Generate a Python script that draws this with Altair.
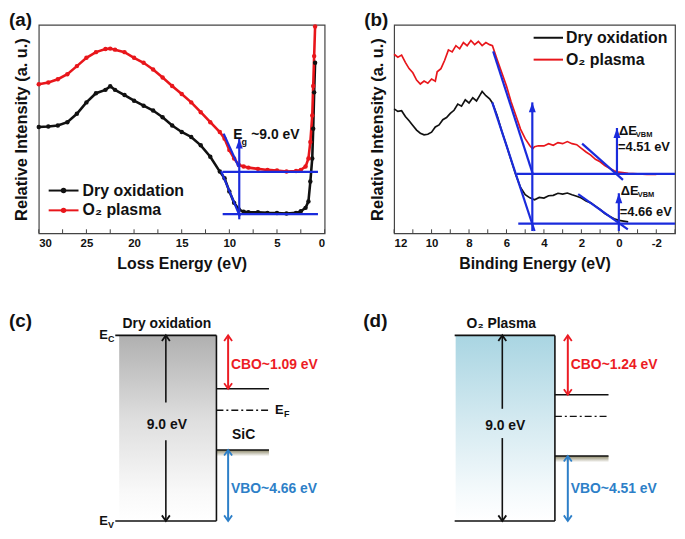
import altair as alt
import pandas as pd

FONT = "Arial"
RED = "#e8161b"
BLK = "#111111"
BLUE = "#1a2bdc"
CBO_RED = "#ec1c24"
VBO_BLUE = "#2d7fc8"
FRAME = "#444444"
UP_TRI = "M-0.35,1L0,0L0.35,1Z"
UP_CHEV = "M-0.5,0.7L0,0L0.5,0.7"
DOWN_CHEV = "M-0.5,-0.7L0,0L0.5,-0.7"

# ---------------- (a) loss-energy spectra ----------------
a_energy = [30, 29, 28, 27, 26, 25, 24, 23, 22.5, 22, 21, 20, 19, 18, 17, 16, 15, 14, 13, 12,
            11, 10.5, 10, 9.5, 9, 8.5, 8, 7, 6, 5, 4, 3, 2.5, 2, 1.7, 1.5, 1.3, 1.2, 1.1, 1.0]
a_dry = [51, 51.2, 51.7, 53.3, 57.3, 62.8, 67.2, 68.8, 70.5, 68.8, 66.3, 63.6, 61.2, 58.9, 55.7,
         51.7, 48.6, 46.2, 42.2, 36.7, 29.6, 26.4, 20.1, 14.6, 11.4, 10.3, 10.1, 10.1, 9.8, 9.7,
         9.5, 9.8, 10.6, 12.2, 15.3, 24.8, 35.9, 50.2, 67.6, 81.8]
a_o2 = [71.5, 72.3, 73.9, 76.3, 80.2, 84.2, 86.9, 88.4, 88.6, 88.1, 86.9, 84.2, 81.8, 78.6, 74.7,
        70.7, 66.8, 62.8, 58.1, 53.3, 48.6, 45.4, 39.9, 35.9, 32.8, 32.0, 31.5, 30.9, 30.4, 30.1,
        29.6, 29.9, 30.4, 32.0, 35.9, 43.8, 56.5, 70.7, 85.0, 99.2]
a_tick_values = [0, 5, 10, 15, 20, 25, 30]
a_minor = [0, 2.5, 5, 7.5, 10, 12.5, 15, 17.5, 20, 22.5, 25, 27.5, 30]
a_fit_x1 = [10.7, 10.7, 10.6, 10.86]
a_fit_y1 = [29.5, 9.2, 47.8, 29.8]
a_fit_x2 = [0.7, 0.7, 9.03, 8.9]
a_fit_y2 = [29.5, 9.2, 31.9, 8.1]
a_arrow_x = [8.96]
a_arrow_y1 = [6.7]
a_arrow_y2 = [45.4]
series = ["Dry oxidation", "O\u2082 plasma"]

# ---------------- (b) valence band spectra ----------------
b_e_dry = [12, 11.8, 11.6, 11.4, 11.2, 11.0, 10.8, 10.6, 10.4, 10.2, 10.0, 9.8, 9.6, 9.4, 9.2,
           9.0, 8.8, 8.6, 8.4, 8.2, 8.0, 7.8, 7.6, 7.4, 7.3, 7.1, 6.9, 6.75, 6.5, 6.25, 6.0, 5.75,
           5.5, 5.25, 5.0, 4.75, 4.5, 4.25, 4.0, 3.75, 3.5, 3.25, 3.0, 2.75, 2.5, 2.25, 2.0, 1.75,
           1.5, 1.25, 1.0, 0.75, 0.5, 0.25, 0, -0.5]
b_dry = [59.7, 58.5, 58.8, 56.0, 54.0, 51.7, 49.5, 48.0, 47.2, 47.5, 48.5, 51.0, 52.0, 54.5, 55.5,
         57.5, 59.0, 62.0, 61.0, 64.0, 62.5, 65.0, 63.5, 66.5, 68.0, 66.0, 64.5, 62.5, 56.5, 49.0,
         42.2, 35.0, 28.0, 22.0, 18.5, 17.0, 16.1, 17.2, 16.9, 18.0, 18.2, 19.2, 18.8, 19.3, 18.5,
         17.8, 16.9, 15.5, 14.6, 13.0, 11.4, 9.5, 8.2, 7.0, 6.2, 5.5]
b_e_o2 = [12, 11.8, 11.6, 11.4, 11.2, 11.0, 10.8, 10.6, 10.4, 10.2, 10.0, 9.8, 9.7, 9.5, 9.3,
          9.1, 8.9, 8.7, 8.5, 8.3, 8.1, 7.9, 7.7, 7.5, 7.3, 7.1, 6.9, 6.75, 6.5, 6.25, 6.0, 5.75,
          5.5, 5.25, 5.0, 4.75, 4.6, 4.5, 4.3, 4.0, 3.75, 3.5, 3.25, 3.0, 2.75, 2.5, 2.25, 2.0,
          1.75, 1.5, 1.25, 1.0, 0.75, 0.5, 0.25, 0, -0.5, -1, -1.5, -2]
b_o2 = [85.9, 84.5, 85.5, 82.0, 79.0, 77.0, 73.5, 71.6, 73.0, 72.0, 74.0, 73.0, 77.5, 79.0, 83.0,
        88.0, 87.0, 90.0, 88.5, 91.5, 90.0, 92.5, 90.5, 92.0, 90.0, 91.5, 90.5, 90.0, 83.4, 77.0,
        70.7, 63.0, 56.5, 50.0, 45.4, 42.0, 40.5, 41.5, 42.0, 41.9, 43.0, 42.2, 43.5, 43.0, 44.0,
        43.0, 42.5, 40.7, 39.0, 37.5, 35.5, 34.3, 32.5, 31.2, 30.0, 29.3, 28.8, 28.5, 28.3, 28.3]
b_tick_values = [12, 10, 8, 6, 4, 2, 0, -2]
b_minor = [12, 11, 10, 9, 8, 7, 6, 5, 4, 3, 2, 1, 0, -1, -2, -3]
b_fit_x1 = [5.45, 5.37, 6.71, 6.76, 1.96, 2.17]
b_fit_y1 = [28.5, 4.6, 87.3, 62.8, 43.0, 18.8]
b_fit_x2 = [-3, -3, 4.58, 4.5, -0.22, -0.48]
b_fit_y2 = [28.5, 4.6, 28.0, 1.1, 25.6, 1.9]
b_arrow_x = [4.62, 0.1, 0.0]
b_arrow_y1 = [1.1, 28.0, 1.1]
b_arrow_y2 = [62.8, 50.5, 19.2]
b_vbm = ["=4.51 eV", "=4.66 eV"]

# ---------------- (c), (d) band diagrams (schematic energy levels) ----------------
gap = 9.0
c_levels = {"cb": 6.41, "ef": 5.37, "vb": 3.44}
d_levels = {"cb": 6.12, "ef": 5.07, "vb": 3.15}
c_labels = ["Dry oxidation", "9.0 eV", "CBO~1.09 eV", "VBO~4.66 eV"]
d_labels = ["O\u2082 Plasma", "9.0 eV", "CBO~1.24 eV", "VBO~4.51 eV"]


def bold(**kw):
    base = dict(font=FONT, fontWeight="bold")
    base.update(kw)
    return base


def label_layer(t, y):
    return alt.Chart(pd.DataFrame({"t": [t]})).mark_text(
        **bold(fontSize=19, align="left", baseline="top", color=BLK)
    ).encode(text="t:N", x=alt.value(-30), y=alt.value(y))


def spectrum_panel(xs, xaxis, width, tag, lines_df, points, fits, arrows, minor, legend, extra):
    ys = alt.Scale(domain=[0, 100], nice=False, zero=False)
    yaxis = alt.Axis(title="Relative Intensity (a. u.)", labels=False, titlePadding=9)

    def X(f):
        return alt.X(f, type="quantitative", scale=xs, axis=xaxis)

    def Y(f):
        return alt.Y(f, type="quantitative", scale=ys, axis=yaxis)

    color = alt.Color("series:N", scale=alt.Scale(domain=series, range=[BLK, RED]), legend=None)
    layers = []
    layers.append(alt.Chart(pd.DataFrame({"t": minor})).mark_rule(color=FRAME, strokeWidth=1).encode(
        x=X("t"), y=alt.value(210), y2=alt.value(206)))
    layers.append(alt.Chart(lines_df).mark_line(strokeWidth=2.6 if points else 1.7).encode(
        x=X("e"), y=Y("v"), color=color))
    if points:
        layers.append(alt.Chart(lines_df).mark_point(filled=True, size=20, opacity=1).encode(
            x=X("e"), y=Y("v"), color=color))
    layers.append(alt.Chart(fits).mark_rule(color=BLUE, strokeWidth=2.2).encode(
        x=X("x1"), x2="x2", y=Y("y1"), y2="y2"))
    layers.append(alt.Chart(arrows).mark_rule(color=BLUE, strokeWidth=2.2).encode(
        x=X("x"), y=Y("y1"), y2="y2"))
    layers.append(alt.Chart(arrows).mark_point(shape=UP_TRI, size=400, filled=True, opacity=1,
                                               color=BLUE).encode(x=X("x"), y=Y("y2")))
    # legend
    lg, mk = legend
    layers.append(alt.Chart(lg).mark_rule(strokeWidth=2).encode(
        x=X("x1"), x2="x2", y=Y("y"), color=color))
    if mk:
        layers.append(alt.Chart(lg).mark_point(filled=True, size=30, opacity=1).encode(
            x=X("xm"), y=Y("y"), color=color))
    layers.append(alt.Chart(lg).mark_text(**bold(fontSize=16, align="left", baseline="middle", color=BLK)).encode(
        x=X("xt"), y=Y("y"), text="series:N"))
    for df, kw in extra:
        layers.append(alt.Chart(df).mark_text(**bold(color=BLK, **kw)).encode(
            x=X("x"), y=Y("y"), text="t:N"))
    layers.append(label_layer(tag, -14))
    return alt.layer(*layers).properties(
        width=width, height=210, view=alt.ViewBackground(stroke=FRAME, strokeWidth=1.2))


# ---- panel (a)
a_df = pd.concat([
    pd.DataFrame({"e": a_energy, "v": a_dry, "series": series[0]}),
    pd.DataFrame({"e": a_energy, "v": a_o2, "series": series[1]}),
])
a_xs = alt.Scale(domain=[0, 30], reverse=True, nice=False, zero=False)
a_xaxis = alt.Axis(values=a_tick_values, title="Loss Energy (eV)", labelExpr="'' + datum.value")
a_legend = pd.DataFrame({"series": series, "y": [20.5, 11], "x1": [28.96, 28.96], "x2": [25.83, 25.83],
                         "xm": [27.4, 27.4], "xt": [25.4, 25.4]})
a_extra = [
    (pd.DataFrame({"x": [9.58, 7.7], "y": [45.4, 45.4], "t": ["E", "~9.0 eV"]}),
     dict(fontSize=14, align="left", baseline="alphabetic")),
    (pd.DataFrame({"x": [8.72], "y": [42.2], "t": ["g"]}),
     dict(fontSize=9, align="left", baseline="alphabetic")),
]
panel_a = spectrum_panel(
    a_xs, a_xaxis, 288, "(a)", a_df, True,
    pd.DataFrame({"x1": a_fit_x1, "y1": a_fit_y1, "x2": a_fit_x2, "y2": a_fit_y2}),
    pd.DataFrame({"x": a_arrow_x, "y1": a_arrow_y1, "y2": a_arrow_y2}),
    a_minor, (a_legend, True), a_extra)

# ---- panel (b)
b_df = pd.concat([
    pd.DataFrame({"e": b_e_dry, "v": b_dry, "series": series[0]}),
    pd.DataFrame({"e": b_e_o2, "v": b_o2, "series": series[1]}),
])
b_xs = alt.Scale(domain=[-3, 12], reverse=True, nice=False, zero=False)
b_xaxis = alt.Axis(values=b_tick_values, title="Binding Energy (eV)", labelExpr="'' + datum.value")
b_legend = pd.DataFrame({"series": series, "y": [93.8, 83.3], "x1": [4.55, 4.55], "x2": [2.98, 2.98],
                         "xm": [3.7, 3.7], "xt": [2.82, 2.82]})
b_extra = [
    (pd.DataFrame({"x": [0.1, 0.0], "y": [47.0, 18.4], "t": ["\u0394E", "\u0394E"]}),
     dict(fontSize=13, align="left", baseline="alphabetic", dx=2)),
    (pd.DataFrame({"x": [0.1, 0.0], "y": [46.2, 17.6], "t": ["VBM", "VBM"]}),
     dict(fontSize=7.5, align="left", baseline="alphabetic", dx=19)),
    (pd.DataFrame({"x": [0.1, 0.0], "y": [39.5, 8.1], "t": b_vbm}),
     dict(fontSize=13, align="left", baseline="alphabetic", dx=1)),
]
panel_b = spectrum_panel(
    b_xs, b_xaxis, 283, "(b)", b_df, False,
    pd.DataFrame({"x1": b_fit_x1, "y1": b_fit_y1, "x2": b_fit_x2, "y2": b_fit_y2}),
    pd.DataFrame({"x": b_arrow_x, "y1": b_arrow_y1, "y2": b_arrow_y2}),
    b_minor, (b_legend, False), b_extra)


# ---- band diagrams
def band_panel(tag, width, xdom, lv, labels, stops, pos):
    xs = alt.Scale(domain=xdom, nice=False, zero=False)
    ys = alt.Scale(domain=[-0.25, 10.15], nice=False, zero=False)

    def X(f):
        return alt.X(f, type="quantitative", scale=xs, axis=None)

    def Y(f):
        return alt.Y(f, type="quantitative", scale=ys, axis=None)

    xb, xa, xl, xsic = pos["box_arrow"], pos["side_arrow"], pos["side_label"], pos["sic_end"]
    layers = []
    grad = alt.LinearGradient(gradient="linear", x1=0, x2=0, y1=0, y2=1,
                              stops=[alt.GradientStop(color=c, offset=o) for c, o in stops])
    layers.append(alt.Chart(pd.DataFrame({"x1": [0], "x2": [1], "y1": [gap], "y2": [0]})).mark_rect(
        fill=grad, strokeWidth=0).encode(x=X("x1"), x2="x2", y=Y("y1"), y2="y2"))
    shadow = alt.LinearGradient(gradient="linear", x1=0, x2=0, y1=0, y2=1,
                                stops=[alt.GradientStop(color="#8a8566", offset=0),
                                       alt.GradientStop(color="#ffffff", offset=1)])
    layers.append(alt.Chart(pd.DataFrame({"x1": [1], "x2": [xsic], "y1": [lv["vb"]], "y2": [lv["vb"] - 0.3]})).mark_rect(
        fill=shadow, strokeWidth=0).encode(x=X("x1"), x2="x2", y=Y("y1"), y2="y2"))
    solid = pd.DataFrame({
        "x1": [pos["line_start"], pos["line_start"], 1, 1, 1],
        "x2": [1, 1, 1, xsic, xsic],
        "y1": [gap, 0, 0, lv["cb"], lv["vb"]],
        "y2": [gap, 0, gap, lv["cb"], lv["vb"]],
    })
    layers.append(alt.Chart(solid).mark_rule(color=BLK, strokeWidth=1.6).encode(
        x=X("x1"), x2="x2", y=Y("y1"), y2="y2"))
    layers.append(alt.Chart(pd.DataFrame({"x1": [1], "x2": [xsic], "y": [lv["ef"]]})).mark_rule(
        color=BLK, strokeWidth=1.4, strokeDash=[7, 3, 2, 3]).encode(x=X("x1"), x2="x2", y=Y("y")))
    arrows = pd.DataFrame({
        "x": [xb, xb, xa, xa],
        "y1": [gap, pos["gap_lo"], lv["cb"], 0],
        "y2": [pos["gap_hi"], 0, gap, lv["vb"]],
        "c": [BLK, BLK, CBO_RED, VBO_BLUE],
        "w": [1.6, 1.6, 2.0, 2.0],
    })
    layers.append(alt.Chart(arrows).mark_rule().encode(
        x=X("x"), y=Y("y1"), y2="y2", color=alt.Color("c:N", scale=None),
        strokeWidth=alt.StrokeWidth("w:Q", scale=None)))
    heads = pd.DataFrame({
        "x": [xb, xb, xa, xa, xa, xa],
        "y": [gap, 0, gap, lv["cb"], lv["vb"], 0],
        "d": ["up", "down", "up", "down", "up", "down"],
        "c": [BLK, BLK, CBO_RED, CBO_RED, VBO_BLUE, VBO_BLUE],
    })
    layers.append(alt.Chart(heads).mark_point(size=256, filled=False, opacity=1, strokeWidth=1.8).encode(
        x=X("x"), y=Y("y"), color=alt.Color("c:N", scale=None),
        shape=alt.Shape("d:N", scale=alt.Scale(domain=["up", "down"], range=[UP_CHEV, DOWN_CHEV]), legend=None)))
    txt = pd.DataFrame({
        "x": [pos["title_x"], pos["gap_text_x"]],
        "y": [9.55, pos["gap_text_y"]],
        "t": labels[:2],
    })
    layers.append(alt.Chart(txt).mark_text(**bold(fontSize=14, align="center", baseline="middle", color=BLK)).encode(
        x=X("x"), y=Y("y"), text="t:N"))
    side = pd.DataFrame({"x": [xl, xl], "y": [7.54, 1.55], "t": labels[2:], "c": [CBO_RED, VBO_BLUE]})
    layers.append(alt.Chart(side).mark_text(**bold(fontSize=14, align="left", baseline="middle")).encode(
        x=X("x"), y=Y("y"), text="t:N", color=alt.Color("c:N", scale=None)))
    for df, kw in pos.get("extra", []):
        layers.append(alt.Chart(df).mark_text(**bold(color=BLK, **kw)).encode(
            x=X("x"), y=Y("y"), text="t:N"))
    layers.append(label_layer(tag, 0))
    return alt.layer(*layers).properties(
        width=width, height=216, view=alt.ViewBackground(stroke="transparent"))


c_extra = [
    (pd.DataFrame({"x": [-0.115, -0.115, 1.69], "y": [gap, 0, c_levels["ef"]], "t": ["E", "E", "E"]}),
     dict(fontSize=13, align="right", baseline="middle")),
    (pd.DataFrame({"x": [-0.115, -0.115, 1.695], "y": [gap, 0, c_levels["ef"]], "t": ["C", "V", "F"]}),
     dict(fontSize=9, align="left", baseline="middle", dy=4)),
    (pd.DataFrame({"x": [1.28], "y": [4.19], "t": ["SiC"]}),
     dict(fontSize=14, align="center", baseline="middle")),
]

c_stops = [("#b0b0b0", 0), ("#dedede", 0.45), ("#f9f9f9", 0.85), ("#ffffff", 1)]
d_stops = [("#a9d5e2", 0), ("#d3e9f0", 0.45), ("#f5fafc", 0.85), ("#ffffff", 1)]

panel_c = band_panel("(c)", 288, [-0.8265, 2.1122], c_levels, c_labels, c_stops, dict(
    box_arrow=0.48, side_arrow=1.12, side_label=1.15, sic_end=1.54, line_start=-0.04,
    gap_hi=5.75, gap_lo=3.91, title_x=0.49, gap_text_x=0.49, gap_text_y=4.66, extra=c_extra))
panel_d = band_panel("(d)", 283, [-0.63, 2.20], d_levels, d_labels, d_stops, dict(
    box_arrow=0.47, side_arrow=1.13, side_label=1.16, sic_end=1.54, line_start=-0.01,
    gap_hi=5.44, gap_lo=4.02, title_x=0.46, gap_text_x=0.5, gap_text_y=4.61))

top = alt.hconcat(panel_a, panel_b, spacing=37)
bottom = alt.hconcat(panel_c, panel_d, spacing=37)

chart = alt.vconcat(top, bottom, spacing=38).properties(padding=0, background="white").configure_view(
    stroke="transparent"
).configure_axis(
    grid=False, domain=False, ticks=False, tickSize=0,
    labelFont=FONT, labelFontWeight="bold", labelFontSize=11.5, labelColor=BLK, labelPadding=4,
    titleFont=FONT, titleFontWeight="bold", titleFontSize=16, titleColor=BLK,
).configure_axisX(titlePadding=7).configure_axisY(titleFontSize=16.5)

chart.save("out.html", embed_options={"renderer": "svg", "actions": False})
